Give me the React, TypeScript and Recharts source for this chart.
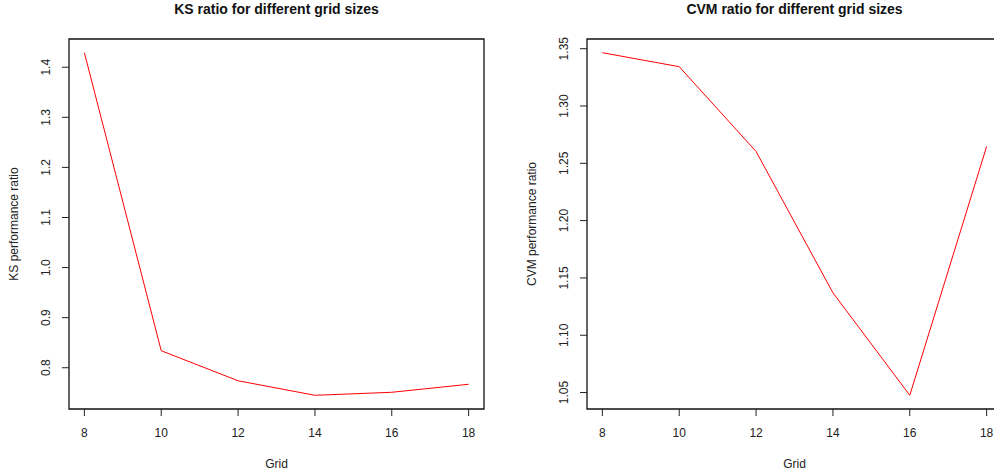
import { LineChart, Line, XAxis, YAxis, ReferenceArea } from "recharts";

const grid = [8, 10, 12, 14, 16, 18];
const ksRatio = [1.429, 0.834, 0.774, 0.745, 0.751, 0.767];
const cvmRatio = [1.3465, 1.3343, 1.2603, 1.137, 1.0476, 1.2647];

const gridTicks = [8, 10, 12, 14, 16, 18];
const ksTicks = [0.8, 0.9, 1.0, 1.1, 1.2, 1.3, 1.4];
const cvmTicks = [1.05, 1.1, 1.15, 1.2, 1.25, 1.3, 1.35];

const FONT = "Arial, 'Liberation Sans', Helvetica, sans-serif";

// R pads axis ranges by 4% on each side
const pad = (vals: number[]): [number, number] => {
  const lo = Math.min(...vals);
  const hi = Math.max(...vals);
  const r = hi - lo;
  return [lo - 0.04 * r, hi + 0.04 * r];
};

const YTick = (props: any) => {
  const { x, y, payload, fmt } = props;
  return (
    <text
      x={x - 6}
      y={y}
      transform={`rotate(-90, ${x - 6}, ${y})`}
      textAnchor="middle"
      dominantBaseline="central"
      fontSize={12}
      fontFamily={FONT}
      fill="#222"
    >
      {fmt(payload.value)}
    </text>
  );
};

type PanelProps = {
  values: number[];
  ticks: number[];
  fmt: (v: number) => string;
  title: string;
  yLabel: string;
  left: number;
  width: number;
  marginLeft: number;
};

const Panel = ({ values, ticks, fmt, title, yLabel, left, width, marginLeft }: PanelProps) => {
  const data = grid.map((g, i) => ({ grid: g, value: values[i] }));
  const xDom = pad(grid);
  const yDom = pad(values);
  const plotLeft = marginLeft + 40;
  const plotRight = width - 13;
  return (
    <div style={{ position: "absolute", left, top: 0, width, height: 475 }}>
      <div
        style={{
          position: "absolute",
          left: plotLeft,
          width: plotRight - plotLeft,
          top: 0,
          textAlign: "center",
          fontFamily: FONT,
          fontWeight: "bold",
          fontSize: 14,
          lineHeight: "19px",
          color: "#111",
        }}
      >
        {title}
      </div>
      <LineChart
        width={width}
        height={475}
        data={data}
        margin={{ top: 39, right: 13, bottom: 36, left: marginLeft }}
      >
        <XAxis
          dataKey="grid"
          type="number"
          domain={xDom}
          ticks={gridTicks}
          allowDataOverflow
          height={30}
          tickSize={7}
          tickMargin={12}
          axisLine={false}
          tickLine={{ stroke: "#222" }}
          tick={{ fontSize: 12, fontFamily: FONT, fill: "#222" }}
          label={{
            value: "Grid",
            position: "bottom",
            offset: 20,
            fontSize: 12,
            fontFamily: FONT,
            fill: "#222",
          }}
        />
        <YAxis
          type="number"
          domain={yDom}
          ticks={ticks}
          allowDataOverflow
          width={40}
          tickSize={7}
          tickMargin={10}
          axisLine={false}
          tickLine={{ stroke: "#222" }}
          tick={<YTick fmt={fmt} />}
          label={{
            value: yLabel,
            angle: -90,
            position: "insideLeft",
            offset: -15,
            fontSize: 12,
            fontFamily: FONT,
            fill: "#222",
            style: { textAnchor: "middle" },
          }}
        />
        <ReferenceArea
          x1={xDom[0]}
          x2={xDom[1]}
          y1={yDom[0]}
          y2={yDom[1]}
          fill="none"
          stroke="#111"
          strokeWidth={1.3}
          ifOverflow="visible"
        />
        <Line
          type="linear"
          dataKey="value"
          stroke="#ff0000"
          strokeWidth={1}
          dot={false}
          isAnimationActive={false}
        />
      </LineChart>
    </div>
  );
};

export default function App() {
  return (
    <div
      style={{
        position: "absolute",
        left: 0,
        top: 0,
        width: 994,
        height: 475,
        overflow: "hidden",
        background: "#fff",
      }}
    >
      <Panel
        values={ksRatio}
        ticks={ksTicks}
        fmt={(v) => v.toFixed(1)}
        title="KS ratio for different grid sizes"
        yLabel="KS performance ratio"
        left={0}
        width={497}
        marginLeft={29}
      />
      <Panel
        values={cvmRatio}
        ticks={cvmTicks}
        fmt={(v) => v.toFixed(2)}
        title="CVM ratio for different grid sizes"
        yLabel="CVM performance ratio"
        left={497}
        width={518}
        marginLeft={50}
      />
    </div>
  );
}
